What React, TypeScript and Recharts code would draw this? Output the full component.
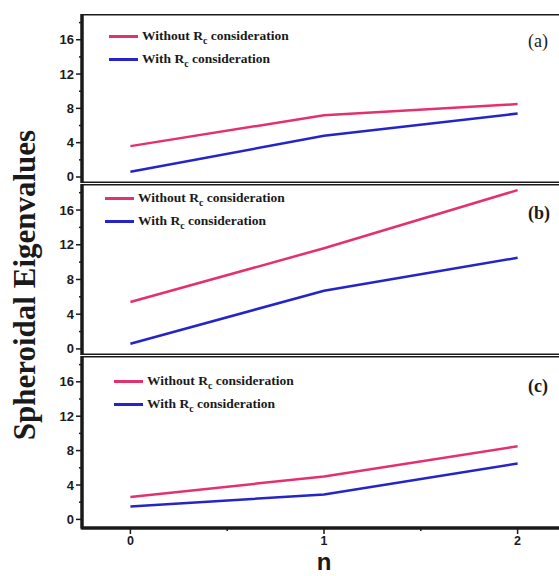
import { Line, LineChart, ReferenceArea, XAxis, YAxis } from "recharts";

const nValues = [0, 1, 2];
const panelAWithout = [3.6, 7.2, 8.5];
const panelAWith = [0.6, 4.8, 7.4];
const panelBWithout = [5.4, 11.6, 18.3];
const panelBWith = [0.6, 6.7, 10.5];
const panelCWithout = [2.6, 5.0, 8.5];
const panelCWith = [1.5, 2.9, 6.5];
const yTicks = [0, 2, 4, 6, 8, 10, 12, 14, 16, 18];
const xTicks = [0, 0.5, 1, 1.5, 2];

const PINK = "#e5306f";
const BLUE = "#2424c8";
const INK = "#1a1a1a";

const build = (without: number[], withRc: number[]) =>
  nValues.map((n, i) => ({ n, without: without[i], with: withRc[i] }));

const YTick = (props: any) => {
  const { x, y, payload } = props;
  const major = payload.value % 4 === 0;
  const axisX = x + 8;
  return (
    <g>
      <line x1={axisX - (major ? 6 : 3)} x2={axisX} y1={y} y2={y} stroke={INK} strokeWidth={1.5} />
      {major && (
        <text x={x} y={y} dy={4.5} textAnchor="end" fontSize={13} fontWeight="bold" fill={INK} fontFamily="Liberation Sans, Arial, sans-serif">
          {payload.value}
        </text>
      )}
    </g>
  );
};

const XTick = (props: any) => {
  const { x, y, payload } = props;
  const major = Number.isInteger(payload.value);
  const axisY = y - 8;
  return (
    <g>
      <line x1={x} x2={x} y1={axisY} y2={axisY + (major ? 6 : 3)} stroke={INK} strokeWidth={1.5} />
      {major && (
        <text x={x} y={y} dy={8.5} textAnchor="middle" fontSize={12.5} fontWeight="bold" fill={INK} fontFamily="Liberation Sans, Arial, sans-serif">
          {payload.value}
        </text>
      )}
    </g>
  );
};

const XLabel = (props: any) => {
  const { viewBox } = props;
  return (
    <text
      x={viewBox.x + viewBox.width / 2}
      y={viewBox.y + viewBox.height - 6}
      textAnchor="middle"
      fontSize={24}
      fontWeight="bold"
      fill={INK}
      fontFamily="Liberation Sans, Arial, sans-serif"
    >
      n
    </text>
  );
};

function LegendBox({ left, top }: { left: number; top: number }) {
  const row = (color: string, prefix: string) => (
    <div style={{ display: "flex", alignItems: "center", height: 23 }}>
      <span style={{ display: "inline-block", width: 29, height: 3, background: color, marginRight: 4 }} />
      <span style={{ fontFamily: "Liberation Serif, Times New Roman, serif", fontWeight: "bold", fontSize: 13.5, color: INK, whiteSpace: "nowrap" }}>
        {prefix} R<sub style={{ fontSize: 10 }}>c</sub> consideration
      </span>
    </div>
  );
  return (
    <div style={{ position: "absolute", left, top }}>
      {row(PINK, "Without")}
      {row(BLUE, "With")}
    </div>
  );
}

interface PanelProps {
  top: number;
  height: number;
  yMin: number;
  without: number[];
  withRc: number[];
  tag: string;
  tagBold: boolean;
  tagTop: number;
  legendLeft: number;
  legendTop: number;
  showX?: boolean;
}

function Panel({ top, height, yMin, without, withRc, tag, tagBold, tagTop, legendLeft, legendTop, showX }: PanelProps) {
  const xHeight = showX ? 48 : 0;
  return (
    <div style={{ position: "absolute", left: 0, top }}>
      <LineChart
        width={566}
        height={height + xHeight}
        data={build(without, withRc)}
        margin={{ top: 0, right: 0, left: 0, bottom: 0 }}
        style={{ overflow: "visible" }}
      >
        <XAxis
          dataKey="n"
          type="number"
          domain={[-0.25, 2.25]}
          ticks={xTicks}
          interval={0}
          allowDataOverflow
          hide={!showX}
          height={xHeight}
          tickLine={false}
          tickSize={6}
          tickMargin={2}
          tick={<XTick />}
          axisLine={{ stroke: INK, strokeWidth: 3 }}
          label={<XLabel />}
        />
        <YAxis
          type="number"
          domain={[yMin, 19]}
          ticks={yTicks}
          interval={0}
          allowDataOverflow
          width={82}
          tickLine={false}
          tickSize={5}
          tickMargin={3}
          tick={<YTick />}
          axisLine={{ stroke: INK, strokeWidth: 3 }}
        />
        <ReferenceArea
          x1={-0.25}
          x2={2.25}
          y1={yMin}
          y2={19}
          fill="none"
          fillOpacity={0}
          stroke={INK}
          strokeWidth={3}
          ifOverflow="visible"
        />
        <Line type="linear" dataKey="without" stroke={PINK} strokeWidth={2.5} dot={false} isAnimationActive={false} />
        <Line type="linear" dataKey="with" stroke={BLUE} strokeWidth={2.5} dot={false} isAnimationActive={false} />
      </LineChart>
      <LegendBox left={legendLeft} top={legendTop} />
      <div
        style={{
          position: "absolute",
          left: 528,
          top: tagTop,
          fontFamily: "Liberation Serif, Times New Roman, serif",
          fontWeight: tagBold ? "bold" : "normal",
          fontSize: 18,
          color: INK,
        }}
      >
        {tag}
      </div>
    </div>
  );
}

export default function App() {
  return (
    <div style={{ position: "absolute", left: 0, top: 0, width: 559, height: 576, overflow: "hidden", background: "#fff" }}>
      <Panel top={14} height={169} yMin={-0.7} without={panelAWithout} withRc={panelAWith} tag="(a)" tagBold={false} tagTop={17} legendLeft={109} legendTop={11} />
      <Panel top={184} height={171} yMin={-0.7} without={panelBWithout} withRc={panelBWith} tag="(b)" tagBold tagTop={19} legendLeft={105} legendTop={3} />
      <Panel top={356} height={172} yMin={-1} without={panelCWithout} withRc={panelCWith} tag="(c)" tagBold tagTop={20} legendLeft={114} legendTop={14} showX />
      <div
        style={{
          position: "absolute",
          left: 25,
          top: 285,
          transform: "translate(-50%, -50%) rotate(-90deg)",
          fontFamily: "Liberation Serif, Times New Roman, serif",
          fontWeight: "bold",
          fontSize: 31,
          color: INK,
          whiteSpace: "nowrap",
        }}
      >
        Spheroidal Eigenvalues
      </div>
    </div>
  );
}
